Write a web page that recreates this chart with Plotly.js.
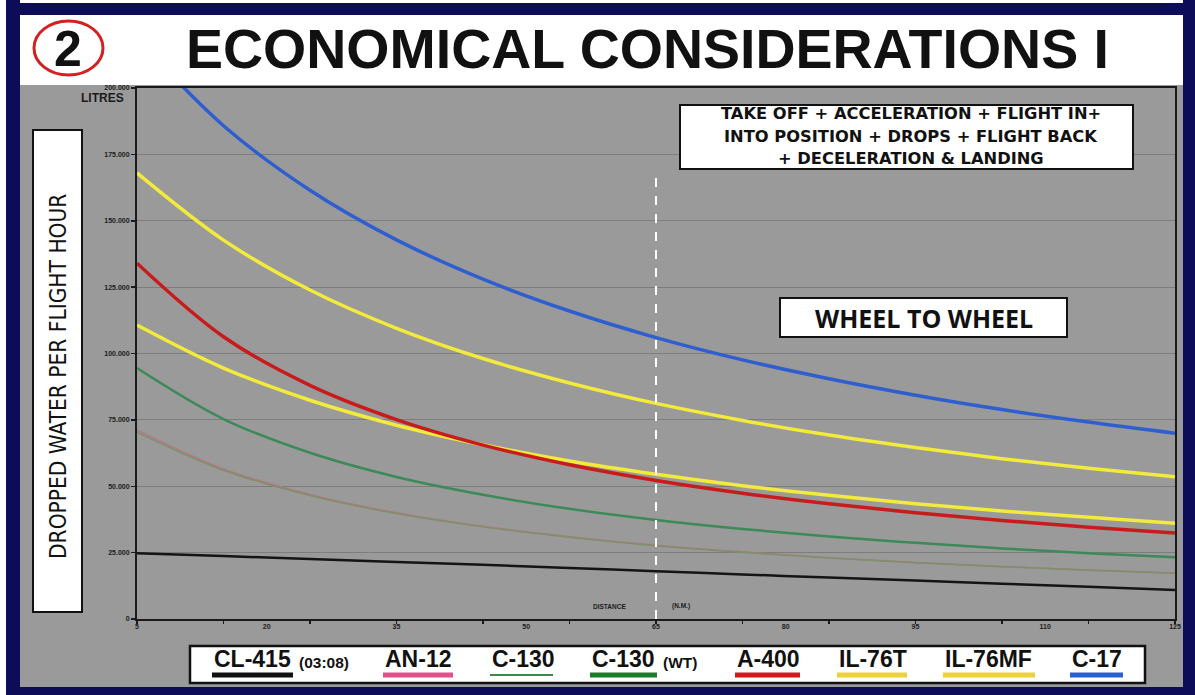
<!DOCTYPE html>
<html>
<head>
<meta charset="utf-8">
<script src="https://cdn.plot.ly/plotly-3.0.1.min.js"></script>
<style>
html,body{margin:0;padding:0;background:#9a9a9a;}
#chart{width:1195px;height:695px;}
</style>
</head>
<body>
<div id="chart"></div>
<script>
// ---------------- DATA ----------------
const distance = [5, 15, 25, 35, 45, 55, 65, 75, 85, 95, 105, 115, 125];   // N.M.
const xTickLabels = [5, 20, 35, 50, 65, 80, 95, 110, 125];
const yTickValues = [0, 25000, 50000, 75000, 100000, 125000, 150000, 175000, 200000];

const cl415  = [24800, 23700, 22600, 21500, 20400, 19200, 18000, 16800, 15600, 14500, 13300, 12100, 10900];
const an12   = [71200, 56500, 46900, 40000, 34900, 31000, 27800, 25300, 23100, 21300, 19800, 18500, 17300];
const c130   = [70400, 56000, 46500, 39700, 34700, 30800, 27600, 25100, 23000, 21200, 19700, 18400, 17200];
const c130wt = [94500, 75300, 62600, 53500, 46800, 41500, 37300, 33900, 31100, 28700, 26600, 24800, 23300];
const a400   = [134000, 106300, 88000, 75100, 65500, 58100, 52200, 47400, 43400, 40000, 37100, 34600, 32400];
const il76t  = [110700, 94500, 82400, 73000, 65600, 59500, 54500, 50200, 46600, 43400, 40700, 38300, 36100];
const il76mf = [168000, 142700, 123900, 109500, 98100, 88900, 81200, 74800, 69300, 64600, 60400, 56800, 53600];
const c17    = [218800, 185800, 161500, 142800, 128000, 116000, 106000, 97600, 90500, 84300, 78900, 74200, 70000];

const seriesNames  = ['CL-415', 'AN-12', 'C-130', 'C-130', 'A-400', 'IL-76T', 'IL-76MF', 'C-17'];
const seriesSuffix = ['(03:08)', '', '', '(WT)', '', '', '', ''];
const seriesValues = [cl415, an12, c130, c130wt, a400, il76t, il76mf, c17];

const noteLines = ['TAKE OFF + ACCELERATION + FLIGHT IN+', 'INTO POSITION + DROPS + FLIGHT BACK', '+ DECELERATION &amp; LANDING'];

const markerDistance = 65;
const markerTop = 166500;

// ---------------- STYLE ----------------
const lineColors   = ['#141414', '#b07a7e', '#7f8f6a', '#3b8a58', '#c81c1c', '#f2ea3c', '#f2ea3c', '#2f5fcf'];
const legendColors = ['#111111', '#e0508a', '#3f8a4a', '#1c7a2c', '#d01a1a', '#ecd23a', '#ecd23a', '#2a5fd0'];
const lineWidths   = [2.5, 1.5, 1.5, 2.5, 3.5, 3.5, 3.5, 3.5];
const swatchWidths = [5, 5, 2, 5, 5, 5, 5, 5];
const drawOrder    = [1, 2, 3, 0, 5, 4, 6, 7];

const FONT = 'Liberation Sans, Arial, sans-serif';
const W = 1195, H = 695, L = 137, R = 1175, T = 88, B = 619;
const fx = x => (x - L) / (R - L);
const fy = y => (B - y) / (B - T);

const traces = drawOrder.map(i => ({
  x: distance,
  y: seriesValues[i],
  type: 'scatter',
  mode: 'lines',
  name: seriesNames[i] + (seriesSuffix[i] ? ' ' + seriesSuffix[i] : ''),
  line: {color: lineColors[i], width: lineWidths[i], shape: 'spline', smoothing: 1},
  hoverinfo: 'skip',
  showlegend: false
}));

// legend layout (pixel positions of each entry)
const legendLeft  = [212, 383, 490, 590, 735, 837, 943, 1070];
const legendRight = [293, 453, 553, 657, 800, 907, 1035, 1123];
const noteY = [114, 136, 158];

const shapes = [
  // navy frame
  {type:'rect', xref:'paper', yref:'paper', x0:fx(0), x1:fx(W), y0:fy(0), y1:fy(15), fillcolor:'#0c0c58', line:{width:0}, layer:'above'},
  {type:'rect', xref:'paper', yref:'paper', x0:fx(0), x1:fx(W), y0:fy(0), y1:fy(3), fillcolor:'#ffffff', line:{width:0}, layer:'above'},
  {type:'rect', xref:'paper', yref:'paper', x0:fx(0), x1:fx(W), y0:fy(687), y1:fy(H), fillcolor:'#0c0c58', line:{width:0}, layer:'above'},
  {type:'rect', xref:'paper', yref:'paper', x0:fx(6), x1:fx(20), y0:fy(0), y1:fy(H), fillcolor:'#0c0c58', line:{width:0}, layer:'above'},
  {type:'rect', xref:'paper', yref:'paper', x0:fx(0), x1:fx(6), y0:fy(3), y1:fy(H), fillcolor:'#ffffff', line:{width:0}, layer:'above'},
  {type:'rect', xref:'paper', yref:'paper', x0:fx(1183), x1:fx(W), y0:fy(0), y1:fy(H), fillcolor:'#0c0c58', line:{width:0}, layer:'above'},
  // white title band
  {type:'rect', xref:'paper', yref:'paper', x0:fx(20), x1:fx(1183), y0:fy(15), y1:fy(85), fillcolor:'#ffffff', line:{width:0}, layer:'above'},
  // red circle around "2"
  {type:'circle', xref:'paper', yref:'paper', x0:fx(34), x1:fx(103), y0:fy(21), y1:fy(75), fillcolor:'rgba(0,0,0,0)', line:{color:'#d42020', width:3}, layer:'above'},
  // y title box
  {type:'rect', xref:'paper', yref:'paper', x0:fx(33), x1:fx(82), y0:fy(130), y1:fy(612), fillcolor:'#ffffff', line:{color:'#111111', width:2}, layer:'above'},
  // legend box
  {type:'rect', xref:'paper', yref:'paper', x0:fx(190), x1:fx(1145), y0:fy(646), y1:fy(683), fillcolor:'#ffffff', line:{color:'#111111', width:2.5}, layer:'above'},
  // note box
  {type:'rect', xref:'paper', yref:'paper', x0:fx(680), x1:fx(1133), y0:fy(105), y1:fy(169), fillcolor:'#ffffff', line:{color:'#111111', width:2}, layer:'above'},
  // wheel to wheel box
  {type:'rect', xref:'paper', yref:'paper', x0:fx(780), x1:fx(1067), y0:fy(298), y1:fy(337), fillcolor:'#ffffff', line:{color:'#111111', width:2}, layer:'above'},
  // dashed marker at 65 N.M.
  {type:'line', xref:'x', yref:'y', x0:markerDistance, x1:markerDistance, y0:0, y1:markerTop, line:{color:'#ffffff', width:2, dash:'dash'}, layer:'above'}
];

seriesNames.forEach((n, i) => {
  shapes.push({type:'line', xref:'paper', yref:'paper', x0:fx(legendLeft[i]), x1:fx(legendRight[i]), y0:fy(675), y1:fy(675),
    line:{color:legendColors[i], width:swatchWidths[i]}, layer:'above'});
});

const annotations = [
  {xref:'paper', yref:'paper', x:fx(647), y:fy(49), text:'<b>ECONOMICAL CONSIDERATIONS I</b>', showarrow:false,
   font:{family:FONT, size:55.5, color:'#111111'}, xanchor:'center', yanchor:'middle'},
  {xref:'paper', yref:'paper', x:fx(68), y:fy(49), text:'<b>2</b>', showarrow:false,
   font:{family:FONT, size:50, color:'#111111'}, xanchor:'center', yanchor:'middle'},
  {xref:'paper', yref:'paper', x:fx(58), y:fy(377), text:'DROPPED WATER PER FLIGHT HOUR', textangle:-90, showarrow:false,
   font:{family:'DejaVu Sans Condensed, Liberation Sans Narrow, sans-serif', size:22.5, color:'#111111'}, xanchor:'center', yanchor:'middle'},
  {xref:'paper', yref:'paper', x:fx(126), y:fy(98), text:'<b>LITRES</b>', showarrow:false,
   font:{family:FONT, size:12, color:'#1a1a1a'}, xanchor:'right', yanchor:'middle'},
  {xref:'paper', yref:'paper', x:fx(609), y:fy(606), text:'<b>DISTANCE</b>', showarrow:false,
   font:{family:FONT, size:6.5, color:'#1a1a1a'}, xanchor:'center', yanchor:'middle'},
  {xref:'paper', yref:'paper', x:fx(681), y:fy(606), text:'<b>(N.M.)</b>', showarrow:false,
   font:{family:FONT, size:6.5, color:'#1a1a1a'}, xanchor:'center', yanchor:'middle'},
  {xref:'paper', yref:'paper', x:fx(923.5), y:fy(318), showarrow:false, text:'<b>WHEEL TO WHEEL</b>',
   font:{family:'Open Sans, sans-serif', size:25, color:'#111111'}, xanchor:'center', yanchor:'middle'}
];

noteLines.forEach((t, k) => {
  annotations.push({xref:'paper', yref:'paper', x:fx(911), y:fy(noteY[k]), showarrow:false, text:'<b>' + t + '</b>',
    font:{family:'DejaVu Sans, sans-serif', size:16.3, color:'#111111'}, xanchor:'center', yanchor:'middle'});
});

seriesNames.forEach((n, i) => {
  annotations.push({xref:'paper', yref:'paper', x:fx(legendLeft[i]), y:fy(659), text:'<b>' + n + '</b>', showarrow:false,
    font:{family:FONT, size:23, color:'#111111'}, xanchor:'left', yanchor:'middle'});
  if (seriesSuffix[i]) {
    annotations.push({xref:'paper', yref:'paper', x:fx(legendRight[i] + 4), y:fy(662), text:'<b>' + seriesSuffix[i] + '</b>', showarrow:false,
      font:{family:FONT, size:15.5, color:'#111111'}, xanchor:'left', yanchor:'middle'});
  }
});

const layout = {
  width: W, height: H,
  margin: {l: L, r: W - R, t: T, b: H - B, pad: 0},
  paper_bgcolor: '#9a9a9a',
  plot_bgcolor: '#9a9a9a',
  separators: ',.',
  showlegend: false,
  font: {family: FONT, color: '#1a1a1a'},
  xaxis: {
    range: [5, 125], tickmode: 'array', tickvals: xTickLabels, ticktext: xTickLabels.map(String),
    ticks: '', showgrid: false, zeroline: false,
    showline: true, linecolor: '#1a1a1a', linewidth: 2, mirror: true,
    tickfont: {family: FONT, size: 7, color: '#1a1a1a', weight: 'bold'},
    minor: {tick0: 5, dtick: 10, ticks: 'outside', ticklen: 3, tickwidth: 1.5, tickcolor: '#1a1a1a', showgrid: false},
    fixedrange: true
  },
  yaxis: {
    range: [0, 200000], tickmode: 'array', tickvals: yTickValues, tickformat: ',d',
    ticks: 'outside', ticklen: 4, tickwidth: 1.5, tickcolor: '#1a1a1a',
    showgrid: true, gridcolor: '#7d7d7d', gridwidth: 1, zeroline: false,
    showline: true, linecolor: '#1a1a1a', linewidth: 2, mirror: true,
    tickfont: {family: FONT, size: 7, color: '#1a1a1a', weight: 'bold'},
    fixedrange: true
  },
  shapes: shapes,
  annotations: annotations
};

Plotly.newPlot('chart', traces, layout, {displayModeBar: false, staticPlot: true});
</script>
</body>
</html>
